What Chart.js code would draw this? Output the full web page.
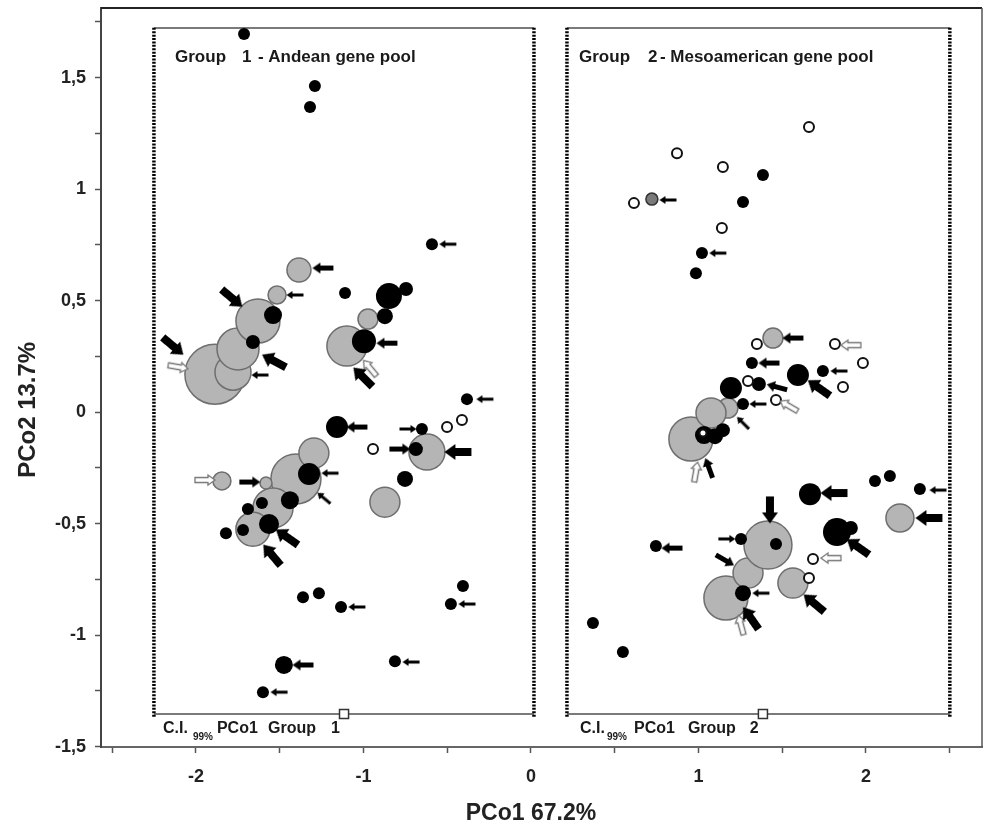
<!DOCTYPE html>
<html><head><meta charset="utf-8">
<script src="https://cdn.jsdelivr.net/npm/chart.js@4/dist/chart.umd.min.js"></script>
<style>html,body{margin:0;padding:0;background:#fff}canvas{display:block}</style>
</head><body>
<canvas id="c" width="986" height="826"></canvas>
<script>
// ---------- axis ticks ----------
const xTickValues = [-2.5,-2,-1.5,-1,-0.5,0,0.5,1,1.5,2,2.5];
const yTickValues = [-1.5,-1.25,-1,-0.75,-0.5,-0.25,0,0.25,0.5,0.75,1,1.25,1.5,1.75];
const xTitle = 'PCo1 67.2%';
const yTitle = 'PCo2 13.7%';

// ---------- Group 1 (Andean) : [PCo1, PCo2, size] ----------
const g1Gray = [[-1.887,0.170,30],[-1.779,0.179,18],[-1.749,0.283,21],[-1.630,0.408,22],[-1.516,0.525,9],[-1.385,0.637,12],
  [-1.099,0.296,20],[-0.973,0.417,10],[-0.621,-0.179,18],[-0.872,-0.404,15],[-1.403,-0.300,25],[-1.296,-0.184,15],
  [-1.540,-0.430,20],[-1.660,-0.525,17],[-1.845,-0.309,9],[-1.582,-0.318,6]];
const g1Black = [[-1.713,1.695,6],[-1.290,1.462,6],[-1.319,1.368,6],[-0.591,0.753,6],[-1.110,0.534,6],[-0.848,0.520,13],
  [-0.746,0.552,7],[-0.872,0.430,8],[-0.997,0.318,12],[-1.540,0.435,9],[-1.660,0.314,7],[-1.158,-0.067,11],[-0.651,-0.076,6],
  [-0.382,0.058,6],[-0.687,-0.166,7],[-0.752,-0.300,8],[-1.325,-0.278,11],[-1.439,-0.395,9],[-1.606,-0.408,6],[-1.690,-0.435,6],
  [-1.564,-0.502,10],[-1.719,-0.529,6],[-1.821,-0.543,6],[-1.361,-0.830,6],[-1.266,-0.812,6],[-1.475,-1.134,9],[-1.600,-1.256,6],
  [-1.134,-0.874,6],[-0.812,-1.117,6],[-0.478,-0.861,6],[-0.406,-0.780,6]];
const g1White = [[-0.943,-0.166,5],[-0.501,-0.067,5],[-0.412,-0.036,5]];

// ---------- Group 2 (Mesoamerican) ----------
const g2Gray = [[0.955,-0.121,22],[1.176,0.018,10],[1.075,-0.004,15],[1.445,0.332,10],[2.203,-0.475,14],[1.164,-0.834,22],
  [1.296,-0.722,15],[1.564,-0.767,15],[1.415,-0.596,24]];
const g2Black = [[1.385,1.063,6],[1.266,0.942,6],[1.021,0.713,6],[0.985,0.623,6],[1.319,0.220,6],[1.594,0.166,11],[1.743,0.184,6],
  [1.194,0.108,11],[1.361,0.126,7],[1.266,0.036,6],[1.033,-0.103,9],[1.099,-0.108,8],[1.146,-0.081,7],[2.054,-0.309,6],
  [2.143,-0.287,6],[2.322,-0.345,6],[1.666,-0.368,11],[1.827,-0.538,14],[1.910,-0.520,7],[1.463,-0.592,6],[1.254,-0.569,6],
  [0.746,-0.601,6],[1.266,-0.812,8],[0.370,-0.946,6],[0.549,-1.076,6]];
const g2White = [[1.660,1.278,5],[0.872,1.161,5],[1.146,1.099,5],[1.140,0.825,5],[0.615,0.937,5],[1.349,0.305,5],[1.815,0.305,5],
  [1.982,0.220,5],[1.863,0.112,5],[1.296,0.139,5],[1.463,0.054,5],[1.684,-0.659,5],[1.660,-0.744,5],[1.027,-0.094,3.5]];
const g2DarkGray = [[0.722,0.955,6]];

// ---------- arrows: [PCo1, PCo2, direction(deg, 0 = pointing left)] ----------
const arrowsThin = [[-0.496,0.753,0],[-1.409,0.525,0],[-1.618,0.166,0],[-0.734,-0.076,180],[-0.275,0.058,0],[-1.200,-0.274,0],
  [-1.236,-0.386,40],[-1.504,-1.256,0],[-1.039,-0.874,0],[-0.716,-1.121,0],[-0.382,-0.861,0],
  [0.818,0.951,0],[1.116,0.713,0],[1.839,0.184,0],[1.355,0.036,0],[1.266,-0.049,45],[2.430,-0.350,0],[1.170,-0.569,180],[1.373,-0.812,0]];
const arrowsMedium = [[-1.242,0.646,0],[-0.860,0.309,0],[-1.039,-0.067,0],[-0.782,-0.166,180],[-1.678,-0.314,180],[-1.361,-1.134,0],
  [1.564,0.332,0],[1.421,0.220,0],[1.469,0.112,15],[1.063,-0.251,70],[0.842,-0.610,0],[1.158,-0.664,210]];
const arrowsThick = [[-1.785,0.511,220],[-2.137,0.296,220],[-1.534,0.229,28],[-1.003,0.157,45],[-0.436,-0.179,0],[-1.457,-0.561,35],
  [-1.546,-0.641,50],[1.719,0.108,35],[1.809,-0.363,0],[2.376,-0.475,0],[1.952,-0.605,35],[1.427,-0.439,270],[1.690,-0.857,40],[1.313,-0.924,55]];
const arrowsHollow = [[-2.107,0.202,190],[-0.961,0.197,50],[-1.946,-0.305,180],[1.910,0.300,0],[1.540,0.027,30],[0.985,-0.269,100],
  [1.791,-0.655,0],[1.254,-0.955,75]];

// ---------- 99% confidence boxes: [xMin, xMax, yMin, yMax] and group means ----------
const g1Box = [-2.251, 0.018, -1.354, 1.722];
const g2Box = [0.215, 2.501, -1.354, 1.722];
const groupMeans = [[-1.116,-1.354],[1.385,-1.354]];

// ---------- in-plot labels: [text, PCo1, PCo2, fontSize] ----------
const plotLabels = [
  ['Group',-2.125,1.570,17],['1',-1.725,1.570,17],['- Andean gene pool',-1.630,1.570,17],
  ['Group',0.287,1.570,17],['2',0.699,1.570,17],['- Mesoamerican gene pool',0.770,1.570,17],
  ['C.I.',-2.197,-1.439,16],['99%',-2.018,-1.471,10],['PCo1',-1.875,-1.439,16],['Group',-1.570,-1.439,16],['1',-1.194,-1.439,16],
  ['C.I.',0.293,-1.439,16],['99%',0.454,-1.471,10],['PCo1',0.615,-1.439,16],['Group',0.937,-1.439,16],['2',1.307,-1.439,16]
];

// ---------- helpers ----------
const FONT = '"Liberation Sans", Arial, sans-serif';
const toXYR = a => a.map(p => ({x:p[0], y:p[1], r:p[2]}));
const toXY = a => a.map(p => ({x:p[0], y:p[1]}));
function makeArrow(len, shaft, headW, headL, fill, stroke){
  const pad = 2, c = document.createElement('canvas');
  c.width = len + pad*2; c.height = headW + pad*2;
  const g = c.getContext('2d'), cy = c.height/2, x0 = pad, x1 = pad + len;
  g.beginPath(); g.moveTo(x0,cy); g.lineTo(x0+headL,cy-headW/2); g.lineTo(x0+headL,cy-shaft/2);
  g.lineTo(x1,cy-shaft/2); g.lineTo(x1,cy+shaft/2); g.lineTo(x0+headL,cy+shaft/2); g.lineTo(x0+headL,cy+headW/2); g.closePath();
  g.fillStyle = fill; g.fill();
  if (stroke){ g.strokeStyle = stroke; g.lineWidth = 1.3; g.stroke(); }
  return c;
}
const imgThin = makeArrow(17,3,8,6,'#000');
const imgMedium = makeArrow(21,5,11,8,'#000');
const imgThick = makeArrow(27,8,16,11,'#000');
const imgHollow = makeArrow(20,5,10,7,'#fff','#777');

function arrowSet(arr, img){
  return {type:'scatter', data: toXY(arr), pointStyle: img, pointRadius: 3,
    pointRotation: c => arr[c.dataIndex][2], order: 1};
}
function boxSets(b){
  const solid = {type:'line', showLine:true, pointRadius:0, borderColor:'#7a7a7a', borderWidth:2, order:9, fill:false};
  const dotted = {type:'line', showLine:true, pointRadius:0, borderColor:'#000', borderWidth:3.5, borderDash:[2,1.4], order:8, fill:false};
  return [
    Object.assign({data:[{x:b[0],y:b[3]},{x:b[1],y:b[3]}]}, solid),
    Object.assign({data:[{x:b[0],y:b[2]},{x:b[1],y:b[2]}]}, solid),
    Object.assign({data:[{x:b[0],y:b[2]-0.012},{x:b[0],y:b[3]+0.005}]}, dotted),
    Object.assign({data:[{x:b[1],y:b[2]-0.012},{x:b[1],y:b[3]+0.005}]}, dotted)
  ];
}
function noPad(s){ s.paddingTop = 0; s.paddingBottom = 0; s.paddingLeft = 0; s.paddingRight = 0; }

const framePlugin = {
  id:'frame',
  beforeDatasetsDraw(chart){
    const {ctx, chartArea:a} = chart;
    ctx.save();
    ctx.strokeStyle = '#222'; ctx.lineWidth = 2;
    ctx.beginPath(); ctx.moveTo(a.left, a.top); ctx.lineTo(a.right, a.top); ctx.stroke();
    ctx.strokeStyle = '#555'; ctx.lineWidth = 1.5;
    ctx.beginPath(); ctx.moveTo(a.right, a.top); ctx.lineTo(a.right, a.bottom); ctx.stroke();
    ctx.restore();
  },
  afterDatasetsDraw(chart){
    const {ctx, scales:{x, y}} = chart;
    ctx.save();
    ctx.fillStyle = '#1a1a1a'; ctx.textBaseline = 'alphabetic'; ctx.textAlign = 'left';
    plotLabels.forEach(l => {
      ctx.font = 'bold ' + l[3] + 'px ' + FONT;
      ctx.fillText(l[0], x.getPixelForValue(l[1]), y.getPixelForValue(l[2]));
    });
    ctx.font = 'bold 23px ' + FONT; ctx.textAlign = 'center'; ctx.fillStyle = '#222';
    ctx.fillText(xTitle, x.getPixelForValue(0), 820);
    ctx.save();
    ctx.font = 'bold 24px ' + FONT;
    ctx.translate(35, y.getPixelForValue(0.01)); ctx.rotate(-Math.PI/2);
    ctx.fillText(yTitle, 0, 0);
    ctx.restore();
    ctx.restore();
  }
};

const fmt = v => String(v).replace('.', ',');
const datasets = [
  ...boxSets(g1Box), ...boxSets(g2Box),
  {type:'bubble', data: toXYR(g1Gray), backgroundColor:'#b5b5b5', borderColor:'#6e6e6e', borderWidth:1.5, order:6},
  {type:'bubble', data: toXYR(g2Gray), backgroundColor:'#b5b5b5', borderColor:'#6e6e6e', borderWidth:1.5, order:6},
  {type:'bubble', data: toXYR(g1Black), backgroundColor:'#000', borderColor:'#000', borderWidth:0, order:4},
  {type:'bubble', data: toXYR(g2Black), backgroundColor:'#000', borderColor:'#000', borderWidth:0, order:4},
  {type:'bubble', data: toXYR(g2DarkGray), backgroundColor:'#7a7a7a', borderColor:'#333', borderWidth:1.5, order:4},
  {type:'bubble', data: toXYR(g1White), backgroundColor:'#fff', borderColor:'#111', borderWidth:2, order:3},
  {type:'bubble', data: toXYR(g2White), backgroundColor:'#fff', borderColor:'#111', borderWidth:2, order:3},
  arrowSet(arrowsThin, imgThin), arrowSet(arrowsMedium, imgMedium), arrowSet(arrowsThick, imgThick), arrowSet(arrowsHollow, imgHollow),
  {type:'scatter', data: toXY(groupMeans), pointStyle:'rect', pointRadius:6.4, backgroundColor:'#fff', borderColor:'#333', borderWidth:1.5, order:0}
];

new Chart(document.getElementById('c'), {
  type:'scatter',
  data:{datasets},
  options:{
    responsive:false, animation:false, events:[],
    layout:{autoPadding:false, padding:{top:8, right:4, left:0, bottom:0}},
    plugins:{legend:{display:false}, tooltip:{enabled:false}},
    scales:{
      x:{type:'linear', min:-2.567, max:2.693,
        afterFit(s){ s.height = 79; noPad(s); },
        afterBuildTicks(s){ s.ticks = xTickValues.map(v => ({value:v})); },
        ticks:{autoSkip:false, maxRotation:0, padding:13, color:'#222',
          font:{family:FONT, size:18, weight:'bold'},
          callback:v => Number.isInteger(v) ? fmt(v) : ''},
        grid:{drawOnChartArea:false, drawTicks:true, tickLength:6, tickColor:'#555', tickWidth:1.5},
        border:{display:true, color:'#666', width:2}},
      y:{type:'linear', min:-1.502, max:1.812,
        afterFit(s){ s.width = 101; noPad(s); },
        afterBuildTicks(s){ s.ticks = yTickValues.map(v => ({value:v})); },
        ticks:{autoSkip:false, padding:9, color:'#222',
          font:{family:FONT, size:18, weight:'bold'},
          callback:v => Math.abs(v*2 - Math.round(v*2)) < 1e-6 ? fmt(v) : ''},
        grid:{drawOnChartArea:false, drawTicks:true, tickLength:6, tickColor:'#555', tickWidth:1.5},
        border:{display:true, color:'#444', width:2}}
    }
  },
  plugins:[framePlugin]
});
</script>
</body></html>
